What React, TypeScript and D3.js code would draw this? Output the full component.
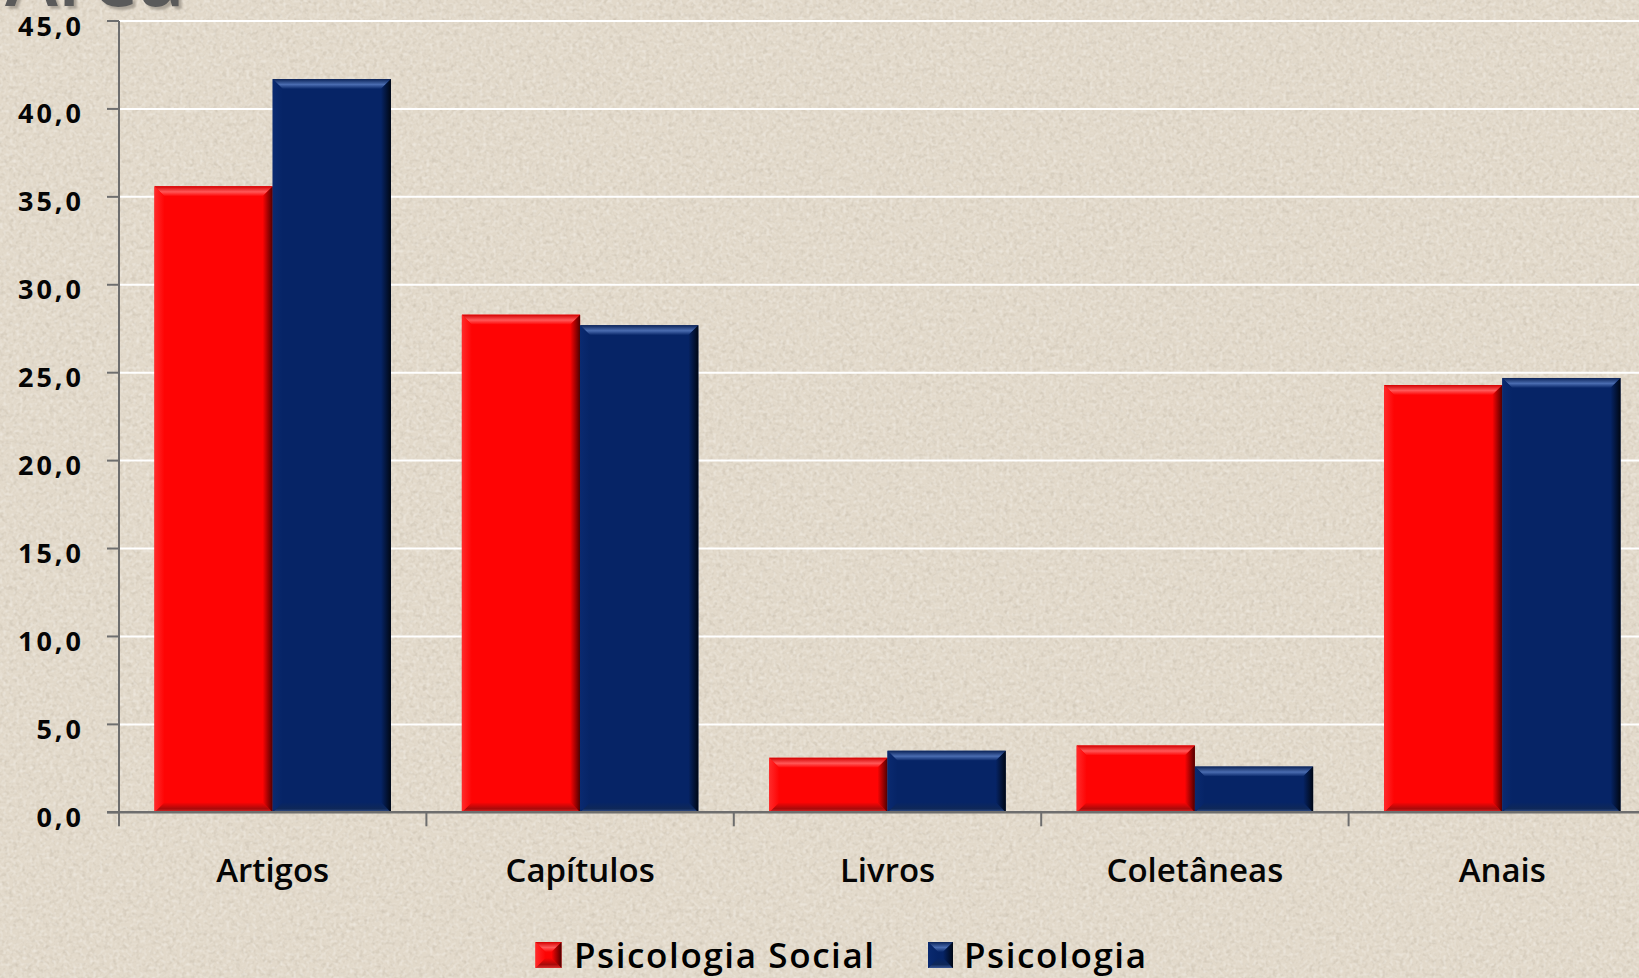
import React from "react";
import * as d3 from "d3";

const categories = ["Artigos", "Capítulos", "Livros", "Coletâneas", "Anais"];
const seriesNames = ["Psicologia Social", "Psicologia"];
const psicologiaSocial = [35.6, 28.3, 3.1, 3.8, 24.3];
const psicologia = [41.7, 27.7, 3.5, 2.6, 24.7];
const yTicks = [0, 5, 10, 15, 20, 25, 30, 35, 40, 45];
const titleText = "Área";

const W = 1639;
const H = 978;
const plotLeft = 119;
const plotRight = 1656;
const plotTop = 21;
const plotBottom = 812.3;

const palettes = [
  { base: "#fe0404", edgeTop: "#d40000", hi: "#ff5858", right: "#4e0000", bottomMid: "#a80a0a", bottomEdge: "#dc3030", left: "#ff2a2a" },
  { base: "#062466", edgeTop: "#0b2358", hi: "#4a6cb0", right: "#000714", bottomMid: "#0f2858", bottomEdge: "#3c5894", left: "#0a2a70" },
];

function Bar({ x0, x1, y0, y1, si }: { x0: number; x1: number; y0: number; y1: number; si: number }) {
  const w = x1 - x0;
  const h = y1 - y0;
  const b = Math.min(10, h / 2, w / 2);
  const id = `s${si}`;
  const pts = (a: number[][]) => a.map((p) => p.join(",")).join(" ");
  return (
    <g>
      <rect x={x0} y={y0} width={w} height={h} fill={palettes[si].base} />
      <polygon points={pts([[x0, y0], [x1, y0], [x1 - b, y0 + b], [x0 + b, y0 + b]])} fill={`url(#top-${id})`} />
      <polygon points={pts([[x0, y1], [x1, y1], [x1 - b, y1 - b], [x0 + b, y1 - b]])} fill={`url(#bot-${id})`} />
      <polygon points={pts([[x0, y0], [x0 + b, y0 + b], [x0 + b, y1 - b], [x0, y1]])} fill={`url(#left-${id})`} />
      <polygon points={pts([[x1, y0], [x1 - b, y0 + b], [x1 - b, y1 - b], [x1, y1]])} fill={`url(#right-${id})`} />
    </g>
  );
}

export default function App() {
  const x0 = d3.scaleBand<string>().domain(categories).range([plotLeft, plotRight]).paddingInner(0).paddingOuter(0);
  const x1 = d3.scaleBand<string>().domain(seriesNames).range([0, x0.bandwidth()]).paddingInner(0).paddingOuter(0.3);
  const y = d3.scaleLinear().domain([0, 45]).range([plotBottom, plotTop]);
  const fmt = (v: number) => d3.format(".1f")(v).replace(".", ",");
  const seriesValues = [psicologiaSocial, psicologia];
  const boundaries = categories.map((c) => x0(c) as number);

  return (
    <svg width={W} height={H} style={{ position: "absolute", left: 0, top: 0, display: "block" }} fontFamily="'Open Sans', sans-serif">
      <defs>
        <filter id="noise" x="0" y="0" width="100%" height="100%">
          <feTurbulence type="fractalNoise" baseFrequency="0.22" numOctaves="2" seed="7" result="t" />
          <feColorMatrix in="t" type="matrix" values="0 0 0 0 0.55  0 0 0 0 0.49  0 0 0 0 0.40  1.3 0 0 0 -0.62" />
        </filter>
        <filter id="noise2" x="0" y="0" width="100%" height="100%">
          <feTurbulence type="fractalNoise" baseFrequency="0.3" numOctaves="1" seed="19" result="t" />
          <feColorMatrix in="t" type="matrix" values="0 0 0 0 0.95  0 0 0 0 0.93  0 0 0 0 0.89  1.2 0 0 0 -0.55" />
        </filter>
        <filter id="titleShadow" x="-10%" y="-10%" width="130%" height="140%">
          <feDropShadow dx="3" dy="3" stdDeviation="0.8" floodColor="#9e978b" floodOpacity="0.8" />
        </filter>
        {palettes.map((p, i) => (
          <React.Fragment key={i}>
            <linearGradient id={`top-s${i}`} x1="0" y1="0" x2="0" y2="1">
              <stop offset="0" stopColor={p.edgeTop} />
              <stop offset="0.55" stopColor={p.hi} />
              <stop offset="1" stopColor={p.base} />
            </linearGradient>
            <linearGradient id={`bot-s${i}`} x1="0" y1="0" x2="0" y2="1">
              <stop offset="0" stopColor={p.base} />
              <stop offset="0.65" stopColor={p.bottomMid} />
              <stop offset="1" stopColor={p.bottomEdge} />
            </linearGradient>
            <linearGradient id={`left-s${i}`} x1="0" y1="0" x2="1" y2="0">
              <stop offset="0" stopColor={p.left} />
              <stop offset="1" stopColor={p.base} />
            </linearGradient>
            <linearGradient id={`right-s${i}`} x1="0" y1="0" x2="1" y2="0">
              <stop offset="0" stopColor={p.base} />
              <stop offset="1" stopColor={p.right} />
            </linearGradient>
          </React.Fragment>
        ))}
      </defs>

      <rect x={0} y={0} width={W} height={H} fill="#e2d9ca" />
      <rect x={0} y={0} width={W} height={H} filter="url(#noise)" />
      <rect x={0} y={0} width={W} height={H} filter="url(#noise2)" />

      {/* Title (cut off at top, as in the reference) */}
      <text x={5} y={6} fontSize={80} fontWeight={600} fill="#5a5a5a" filter="url(#titleShadow)">{titleText}</text>

      {/* Gridlines */}
      {yTicks.filter((t) => t > 0).map((t) => (
        <line key={t} x1={plotLeft} x2={W} y1={y(t)} y2={y(t)} stroke="#ffffff" strokeWidth={2} />
      ))}

      {/* Bars */}
      {categories.map((c, ci) => (
        <g key={c}>
          {seriesNames.map((s, si) => {
            const bx = (x0(c) as number) + (x1(s) as number);
            return (
              <Bar key={s} x0={bx} x1={bx + x1.bandwidth()} y0={y(seriesValues[si][ci])} y1={y(0)} si={si} />
            );
          })}
        </g>
      ))}

      {/* Axes */}
      <line x1={plotLeft} x2={plotLeft} y1={plotTop} y2={plotBottom} stroke="#6e6e6e" strokeWidth={2} />
      <line x1={plotLeft - 12} x2={W} y1={plotBottom} y2={plotBottom} stroke="#6e6e6e" strokeWidth={2.5} />
      {yTicks.map((t) => (
        <g key={t}>
          <line x1={plotLeft - 12} x2={plotLeft} y1={y(t)} y2={y(t)} stroke="#6e6e6e" strokeWidth={2} />
          <text x={84} y={y(t) + 4} textAnchor="end" dominantBaseline="central" fontSize={27} fontWeight={700} letterSpacing={3} fill="#050505">
            {fmt(t)}
          </text>
        </g>
      ))}
      {boundaries.map((bx, i) => (
        <line key={i} x1={bx} x2={bx} y1={plotBottom} y2={plotBottom + 14} stroke="#6e6e6e" strokeWidth={2} />
      ))}
      {categories.map((c) => (
        <text key={c} x={(x0(c) as number) + x0.bandwidth() / 2} y={882} textAnchor="middle" fontSize={33} fontWeight={600} fill="#050505">
          {c}
        </text>
      ))}

      {/* Legend */}
      <g>
        <Bar x0={535.5} x1={561.5} y0={942} y1={968} si={0} />
        <text x={574} y={967.5} fontSize={35} fontWeight={600} letterSpacing={1.6} fill="#000000">{seriesNames[0]}</text>
        <Bar x0={928} x1={953} y0={942} y1={968} si={1} />
        <text x={964} y={967.5} fontSize={35} fontWeight={600} letterSpacing={1.6} fill="#000000">{seriesNames[1]}</text>
      </g>
    </svg>
  );
}
